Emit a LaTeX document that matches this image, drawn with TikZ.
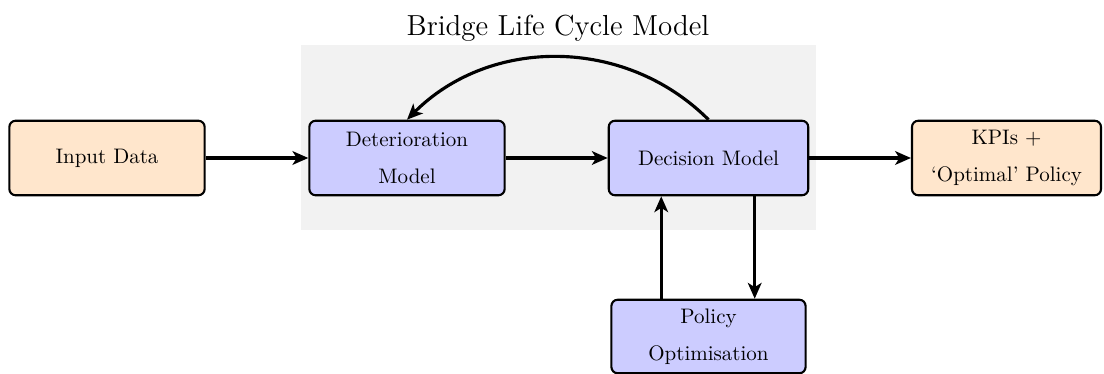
\documentclass[tikz,border=0pt]{standalone}
\usetikzlibrary{arrows.meta}
\definecolor{boxorange}{HTML}{FFE6CC}
\definecolor{boxblue}{HTML}{CCCCFF}
\definecolor{bggray}{HTML}{F2F2F2}
\begin{document}
\begin{tikzpicture}[x=0.47619pt, y=-0.47619pt,
  base/.style={draw=black, line width=1pt, rounded corners=3pt, minimum width=93pt, minimum height=35.5pt, inner sep=0pt, align=center},
  iobox/.style={base, fill=boxorange},
  procbox/.style={base, fill=boxblue},
  conn/.style={line width=1.5pt, -{Stealth[length=7.5pt,width=6.5pt,inset=2pt]}}
]
\useasboundingbox (0,0) rectangle (1104,374);
\fill[bggray] (301,45) rectangle (816,230);
\node (title) at (558,28) {\fontsize{13.8}{16}\selectfont Bridge Life Cycle Model};
\node[iobox] (input) at (107,158) {Input Data};
\node[procbox] (det) at (407,158) {Deterioration\\[5.5pt]Model};
\node[procbox, minimum width=95pt] (dec) at (708.5,158) {Decision Model};
\node[iobox, minimum width=90pt] (kpi) at (1006.5,158) {KPIs +\\[5.5pt]`Optimal' Policy};
\node[procbox, minimum width=92.5pt, minimum height=35pt] (pol) at (708.5,336.5) {Policy\\[5.5pt]Optimisation};
\draw[conn] (input) -- (det);
\draw[conn] (det) -- (dec);
\draw[conn] (dec) -- (kpi);
\draw[conn] (dec.north) to[bend right=45] (det.north);
\draw[conn] ([xshift=-22.5pt]pol.north) -- ([xshift=-22.5pt]dec.south);
\draw[conn] ([xshift=22pt]dec.south) -- ([xshift=22pt]pol.north);
\end{tikzpicture}
\end{document}
